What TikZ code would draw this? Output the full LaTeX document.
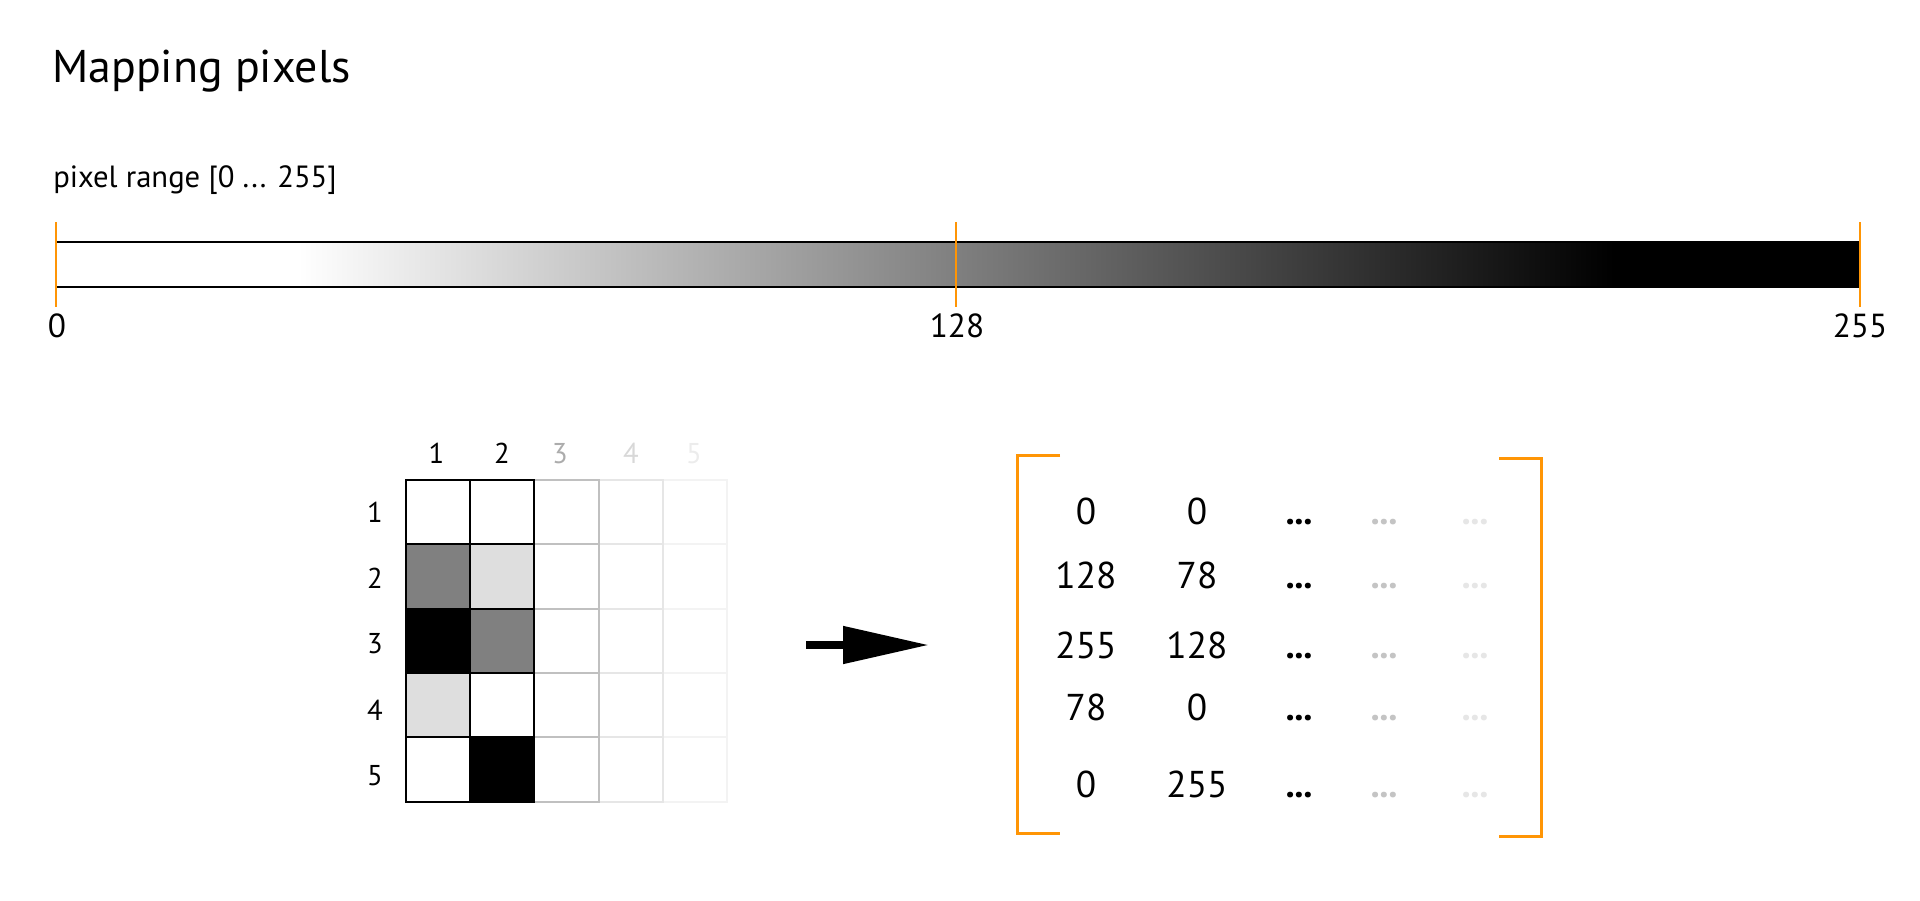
\documentclass[tikz,border=0pt]{standalone}
\usepackage{fontspec}
\setmainfont{PT Sans}
\usetikzlibrary{arrows.meta}
\definecolor{orng}{HTML}{FF9505}
\definecolor{gmid}{HTML}{808080}
\definecolor{glight}{HTML}{DEDEDE}
\definecolor{line3}{HTML}{C0C0C0}
\definecolor{line4}{HTML}{E6E6E6}
\definecolor{line5}{HTML}{F3F3F3}
\definecolor{lab3}{HTML}{ACACAC}
\definecolor{lab4}{HTML}{D8D8D8}
\definecolor{lab5}{HTML}{ECECEC}
\definecolor{dot4}{HTML}{C4C4C4}
\definecolor{dot5}{HTML}{E6E6E6}
\newcommand{\mydots}{\textbf{.\kern-0.2pt.\kern-0.2pt.}}
\tikzset{
  titletxt/.style={anchor=base west,inner sep=0pt,font=\fontsize{34.4}{40}\selectfont},
  subtxt/.style={anchor=base west,inner sep=0pt,font=\fontsize{23}{27}\selectfont},
  ticktxt/.style={anchor=base,inner sep=0pt,font=\fontsize{25}{29}\selectfont},
  gridtxt/.style={anchor=base,inner sep=0pt,font=\fontsize{21.5}{25}\selectfont},
  mattxt/.style={anchor=base,inner sep=0pt,font=\fontsize{28}{33}\selectfont},
  tickline/.style={draw=orng,line width=1.75pt},
  barline/.style={draw=black,line width=1.3pt},
  bracket/.style={draw=orng,line width=2.25pt},
  cellbox/.style={line width=1.5pt},
}
\begin{document}
\begin{tikzpicture}[x=0.75pt,y=-0.75pt]
\useasboundingbox (0,0) rectangle (1920,900);
% title texts
\node[titletxt] (title) at (52,82) {Mapping pixels};
\node[subtxt] (range) at (53,187) {pixel range [0 ... 255]};
% gradient bar
\fill[white] (56,242.3) rectangle (298,287.3);
\shade[left color=white,right color=black] (298,242.3) rectangle (1614,287.3);
\fill[black] (1614,242.3) rectangle (1860,287.3);
\draw[barline] (56,242.3) -- (1860,242.3);
\draw[barline] (56,287.3) -- (1860,287.3);
\draw[tickline] (56,222) -- (56,306.7);
\draw[tickline] (956,222) -- (956,306.7);
\draw[tickline] (1860,222) -- (1860,306.7);
\node[ticktxt] (t0) at (57,337) {0};
\node[ticktxt] (t128) at (957,337) {128};
\node[ticktxt] (t255) at (1860,337) {255};
% grid
\def\gx{405.7}\def\gy{480}\def\cs{64.3}
\foreach \r in {0,...,4}{
  \draw[cellbox,line5,fill=white] (\gx+4*\cs,\gy+\r*\cs) rectangle ++(\cs,\cs);
}
\foreach \r in {0,...,4}{
  \draw[cellbox,line4,fill=white] (\gx+3*\cs,\gy+\r*\cs) rectangle ++(\cs,\cs);
}
\foreach \r in {0,...,4}{
  \draw[cellbox,line3,fill=white] (\gx+2*\cs,\gy+\r*\cs) rectangle ++(\cs,\cs);
}
\foreach \c/\r/\f in {0/0/white,1/0/white,0/1/gmid,1/1/glight,0/2/black,1/2/gmid,0/3/glight,1/3/white,0/4/white,1/4/black}{
  \draw[cellbox,black,fill=\f] (\gx+\c*\cs,\gy+\r*\cs) rectangle ++(\cs,\cs);
}
% column labels
\node[gridtxt] (c1) at (436.5,463.5) {1};
\node[gridtxt] (c2) at (502,463.5) {2};
\node[gridtxt,text=lab3] (c3) at (560,463.5) {3};
\node[gridtxt,text=lab4] (c4) at (631,463.5) {4};
\node[gridtxt,text=lab5] (c5) at (694,463.5) {5};
% row labels
\node[gridtxt] (r1) at (375,522) {1};
\node[gridtxt] (r2) at (375,588) {2};
\node[gridtxt] (r3) at (375,653) {3};
\node[gridtxt] (r4) at (375,720) {4};
\node[gridtxt] (r5) at (375,785) {5};
% arrow
\coordinate (as) at (806,645);
\coordinate (ae) at (929,645);
\draw[line width=6pt,-{Triangle[length=64.5pt,width=27pt]}] (as) -- (ae);
% matrix brackets
\draw[bracket] (1060,455.5) -- (1017.5,455.5) -- (1017.5,833) -- (1060,833);
\draw[bracket] (1499,458) -- (1541.5,458) -- (1541.5,836) -- (1499,836);
% matrix entries
\foreach \y/\a/\b/\n in {524/0/0/1,588/128/78/2,658/255/128/3,720/78/0/4,797/0/255/5}{
  \node[mattxt] (m\n a) at (1086,\y) {\a};
  \node[mattxt] (m\n b) at (1197,\y) {\b};
  \node[mattxt] (m\n c) at (1299,\y) {\mydots};
  \node[mattxt,text=dot4] (m\n d) at (1384,\y) {\mydots};
  \node[mattxt,text=dot5] (m\n e) at (1475,\y) {\mydots};
}
\end{tikzpicture}
\end{document}
